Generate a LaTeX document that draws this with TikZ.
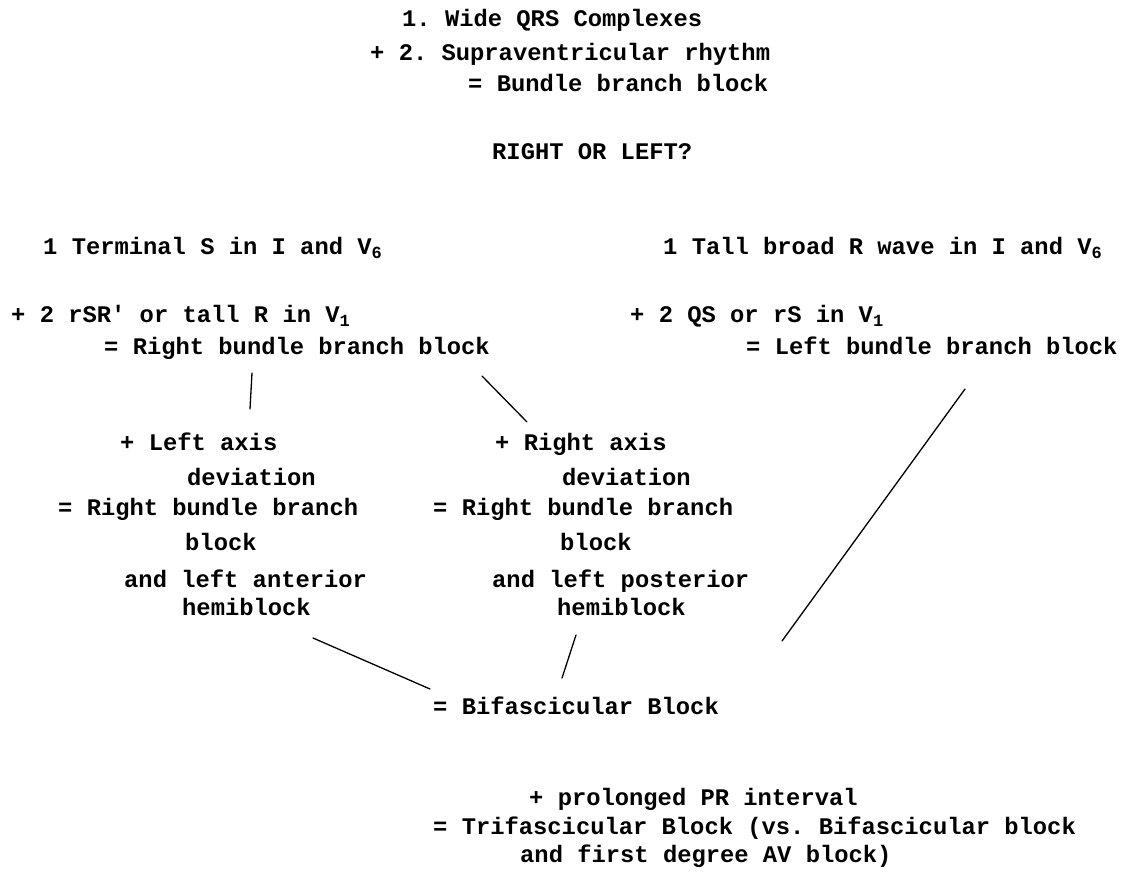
\documentclass[tikz,border=0pt]{standalone}
\usepackage{fontspec}
\setmonofont{Liberation Mono}
\newcommand{\lowsub}[1]{\raisebox{-0.35ex}{\fontsize{17}{17}\selectfont #1}}
\begin{document}
\begin{tikzpicture}[x=1pt,y=-1pt,
  txt/.style={anchor=base west,inner sep=0pt,font=\ttfamily\bfseries\fontsize{23.8}{28}\selectfont},
  link/.style={line width=1.3pt,line cap=round}]
\useasboundingbox (0,0) rectangle (1126,883);
% top block
\node[txt] (t1) at (402,27) {1. Wide QRS Complexes};
\node[txt] (t2) at (370,60) {+ 2. Supraventricular rhythm};
\node[txt] (t3) at (468,91) {= Bundle branch block};
\node[txt] (t4) at (492,159) {RIGHT OR LEFT?};
% left column
\node[txt] (l1) at (43,254) {1 Terminal S in I and V\lowsub{6}};
\node[txt] (l2) at (11,322) {+ 2 rSR′ or tall R in V\lowsub{1}};
\node[txt] (l3) at (104,354) {= Right bundle branch block};
% right column
\node[txt] (r1) at (663,254) {1 Tall broad R wave in I and V\lowsub{6}};
\node[txt] (r2) at (630,322) {+ 2 QS or rS in V\lowsub{1}};
\node[txt] (r3) at (746,354) {= Left bundle branch block};
% middle left
\node[txt] (a1) at (120,450) {+ Left axis};
\node[txt] (a2) at (187,485) {deviation};
\node[txt] (a3) at (58,515) {= Right bundle branch};
\node[txt] (a4) at (185,550) {block};
\node[txt] (a5) at (124,587) {and left anterior};
\node[txt] (a6) at (182,615) {hemiblock};
% middle right
\node[txt] (b1) at (495,450) {+ Right axis};
\node[txt] (b2) at (562,485) {deviation};
\node[txt] (b3) at (433,515) {= Right bundle branch};
\node[txt] (b4) at (560,550) {block};
\node[txt] (b5) at (492,587) {and left posterior};
\node[txt] (b6) at (557,615) {hemiblock};
% bottom
\node[txt] (bi) at (433,714) {= Bifascicular Block};
\node[txt] (p1) at (529,805) {+ prolonged PR interval};
\node[txt] (p2) at (433,834) {= Trifascicular Block (vs. Bifascicular block};
\node[txt] (p3) at (520,862) {and first degree AV block)};
% connector ends
\coordinate (ea1) at (252,373);
\coordinate (ea2) at (250,409);
\coordinate (eb1) at (482,376);
\coordinate (eb2) at (527,422);
\coordinate (ec1) at (313,638);
\coordinate (ec2) at (430,689);
\coordinate (ed1) at (576,635);
\coordinate (ed2) at (562,678);
\coordinate (ee1) at (965,389);
\coordinate (ee2) at (782,641);
\draw[link] (ea1) -- (ea2);
\draw[link] (eb1) -- (eb2);
\draw[link] (ec1) -- (ec2);
\draw[link] (ed1) -- (ed2);
\draw[link] (ee1) -- (ee2);
\end{tikzpicture}
\end{document}
